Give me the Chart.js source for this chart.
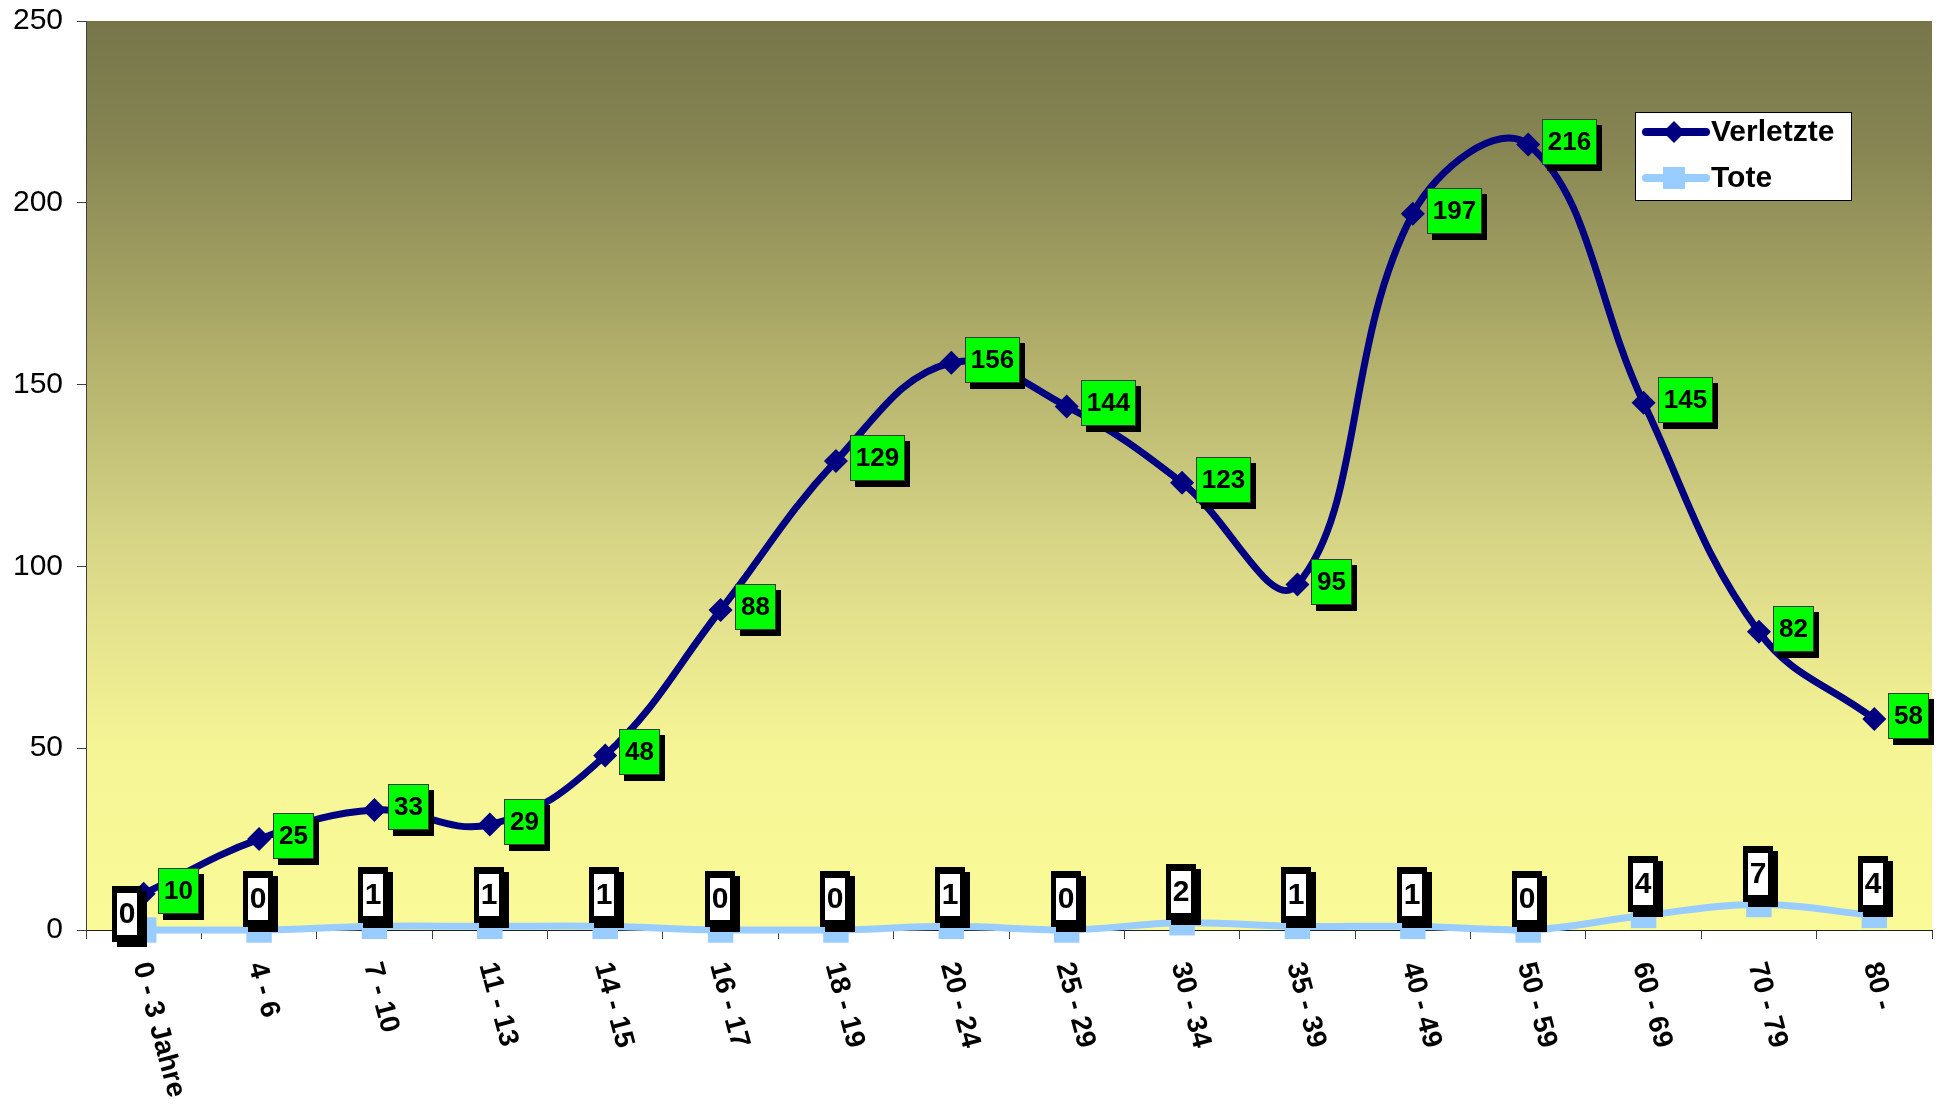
<!DOCTYPE html>
<html>
<head>
<meta charset="utf-8">
<script src="https://cdn.jsdelivr.net/npm/chart.js@4.4.1/dist/chart.umd.min.js"></script>
<style>
  html, body { margin: 0; padding: 0; background: #fff; }
  #wrap { width: 1939px; height: 1104px; }
</style>
</head>
<body>
<div id="wrap"><canvas id="c" width="1939" height="1104"></canvas></div>
<script>
const categories = ["0 - 3 Jahre", "4 - 6", "7 - 10", "11 - 13", "14 - 15", "16 - 17", "18 - 19", "20 - 24",
  "25 - 29", "30 - 34", "35 - 39", "40 - 49", "50 - 59", "60 - 69", "70 - 79", "80 -"];
const verletzte = [10, 25, 33, 29, 48, 88, 129, 156, 144, 123, 95, 197, 216, 145, 82, 58];
const tote = [0, 0, 1, 1, 1, 0, 0, 1, 0, 2, 1, 1, 0, 4, 7, 4];
const yTicks = [0, 50, 100, 150, 200, 250];

const FONT = '"Liberation Sans", Arial, Helvetica, sans-serif';
const NAVY = "#000080";
const LIGHTBLUE = "#99ccff";

// gradient fill behind the plot area
const plotBg = {
  id: "plotBg",
  beforeDraw(chart) {
    const { ctx, chartArea: a } = chart;
    const g = ctx.createLinearGradient(0, a.top, 0, a.bottom);
    g.addColorStop(0, "#77764a");
    g.addColorStop(0.13, "#858452");
    g.addColorStop(0.37, "#b2b06a");
    g.addColorStop(0.59, "#dad888");
    g.addColorStop(0.8, "#f6f595");
    g.addColorStop(1, "#fbfa98");
    ctx.save();
    ctx.fillStyle = g;
    ctx.fillRect(a.left, a.top, a.right - a.left, a.bottom - a.top);
    ctx.restore();
  }
};

// boxed value labels
const valueLabels = {
  id: "valueLabels",
  afterDatasetsDraw(chart) {
    const ctx = chart.ctx;
    ctx.save();
    ctx.textAlign = "center";
    ctx.textBaseline = "middle";

    const mv = chart.getDatasetMeta(0).data;
    const greenBoxes = [];
    ctx.font = "bold 26px " + FONT;
    verletzte.forEach((v, i) => {
      const p = mv[i], t = String(v);
      const w = Math.round(ctx.measureText(t).width) + 12, h = 46;
      const x = Math.round(p.x + 14), y = Math.round(p.y - 3 - h / 2);
      greenBoxes.push({ x, y, w, h });
      ctx.fillStyle = "#000";
      ctx.fillRect(x + 5, y + 6, w, h);
      ctx.fillStyle = "#00ff00";
      ctx.fillRect(x, y, w, h);
      ctx.strokeStyle = "#3a3a3a";
      ctx.lineWidth = 1;
      ctx.strokeRect(x + 0.5, y + 0.5, w - 1, h - 1);
      ctx.fillStyle = "#000";
      ctx.fillText(t, x + w / 2, y + h / 2 + 1);
    });

    const mt = chart.getDatasetMeta(1).data;
    ctx.font = "bold 30px " + FONT;
    tote.forEach((v, i) => {
      const p = mt[i], t = String(v);
      const iw = Math.round(ctx.measureText(t).width) + 3, ih = 42;
      const w = iw + 10, h = ih + 14;
      let x = Math.round(p.x - 1 - w / 2), y = Math.round(p.y - 3 - h);
      // nudge away when it would crowd the green label
      const g = greenBoxes[i];
      if (x + w > g.x - 6 && x < g.x + g.w && y + h > g.y && y < g.y + g.h) { x -= 16; y += 15; }
      ctx.fillStyle = "#000";
      ctx.fillRect(x + 5, y + 5, w, h);
      ctx.fillRect(x, y, w, h);
      ctx.fillStyle = "#fff";
      ctx.fillRect(x + 5, y + 7, iw, ih);
      ctx.fillStyle = "#000";
      ctx.fillText(t, x + 5 + iw / 2, y + 7 + ih / 2 + 1);
    });
    ctx.restore();
  }
};

// slanted category labels + legend box
const extras = {
  id: "extras",
  afterDraw(chart) {
    const ctx = chart.ctx, xs = chart.scales.x, a = chart.chartArea;
    ctx.save();
    ctx.fillStyle = "#000";
    ctx.font = "bold 28px " + FONT;
    ctx.textAlign = "left";
    ctx.textBaseline = "middle";
    categories.forEach((c, i) => {
      const x = xs.getPixelForValue(i);
      ctx.save();
      ctx.translate(x - 3, xs.top + 33);
      ctx.rotate(75 * Math.PI / 180);
      ctx.fillText(c, 0, 0);
      ctx.restore();
    });

    // legend
    const lx = a.right - 297, ly = a.top + 91, lw = 217, lh = 89;
    ctx.fillStyle = "#fff";
    ctx.fillRect(lx, ly, lw, lh);
    ctx.strokeStyle = "#000";
    ctx.lineWidth = 1;
    ctx.strokeRect(lx + 0.5, ly + 0.5, lw - 1, lh - 1);
    const rows = [
      { label: "Verletzte", color: NAVY, y: ly + 20, marker: "diamond" },
      { label: "Tote", color: LIGHTBLUE, y: ly + 66, marker: "square" }
    ];
    rows.forEach(r => {
      ctx.strokeStyle = r.color;
      ctx.lineWidth = 8;
      ctx.lineCap = "round";
      ctx.beginPath();
      ctx.moveTo(lx + 11, r.y);
      ctx.lineTo(lx + 71, r.y);
      ctx.stroke();
      ctx.fillStyle = r.color;
      const cx = lx + 39;
      if (r.marker === "diamond") {
        ctx.beginPath();
        ctx.moveTo(cx, r.y - 11);
        ctx.lineTo(cx + 11, r.y);
        ctx.lineTo(cx, r.y + 11);
        ctx.lineTo(cx - 11, r.y);
        ctx.closePath();
        ctx.fill();
      } else {
        ctx.fillRect(cx - 11, r.y - 11, 22, 22);
      }
      ctx.fillStyle = "#000";
      ctx.font = "bold 30px " + FONT;
      ctx.fillText(r.label, lx + 76, r.y + 1);
    });
    ctx.restore();
  }
};

new Chart(document.getElementById("c"), {
  type: "line",
  data: {
    labels: categories,
    datasets: [
      { label: "Verletzte", data: verletzte, borderColor: NAVY, backgroundColor: NAVY, borderWidth: 7,
        pointStyle: "rectRot", pointRadius: 12, pointBorderWidth: 0, tension: 0.4, clip: false },
      { label: "Tote", data: tote, borderColor: LIGHTBLUE, backgroundColor: LIGHTBLUE, borderWidth: 7,
        pointStyle: "rect", pointRadius: 18, pointBorderWidth: 0, tension: 0.4, clip: false }
    ]
  },
  options: {
    responsive: false, animation: false, devicePixelRatio: 1,
    layout: { autoPadding: false, padding: { top: 21, right: 7, left: 0, bottom: 0 } },
    plugins: { legend: { display: false }, tooltip: { enabled: false } },
    scales: {
      x: {
        offset: true,
        ticks: { display: false },
        grid: { offset: true, drawOnChartArea: false, tickLength: 9, color: "#404040" },
        border: { color: "#202020", width: 1 },
        afterFit: s => { s.height = 174; s.paddingLeft = 0; s.paddingRight = 0; }
      },
      y: {
        min: 0, max: 250,
        afterBuildTicks: s => { s.ticks = yTicks.map(v => ({ value: v })); },
        ticks: { font: { size: 30, family: FONT }, color: "#000", padding: 14 },
        grid: { drawOnChartArea: false, tickLength: 9, color: "#404040" },
        border: { color: "#404040", width: 1 },
        afterFit: s => { s.width = 86; s.paddingTop = 0; s.paddingBottom = 0; s.paddingLeft = 0; s.paddingRight = 0; }
      }
    }
  },
  plugins: [plotBg, valueLabels, extras]
});
</script>
</body>
</html>
